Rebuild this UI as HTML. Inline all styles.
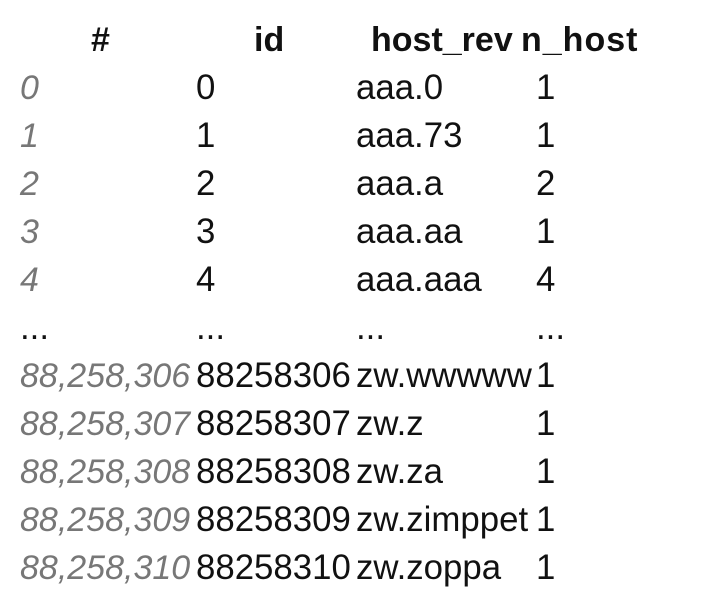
<!DOCTYPE html>
<html><head><style>
body{margin:0;width:706px;height:600px;background:#fff;position:relative;font-family:"Liberation Sans",Arial,sans-serif;font-size:34.8px;color:#111;overflow:hidden}
.t{position:absolute;line-height:1;white-space:nowrap}
.h{font-weight:bold;font-size:34px}
.i{font-style:italic;color:#777;font-size:34px}
</style></head><body>
<div class="t h" style="left:91px;top:23px">#</div>
<div class="t h" style="left:254px;top:23px">id</div>
<div class="t h" style="left:371px;top:23px">host_rev</div>
<div class="t h" style="left:521px;top:23px;letter-spacing:1px">n_host</div>

<div class="t i" style="left:20px;top:71px">0</div><div class="t" style="left:196px;top:71px">0</div><div class="t" style="left:356px;top:71px">aaa.0</div><div class="t" style="left:536px;top:71px">1</div>
<div class="t i" style="left:20px;top:119px">1</div><div class="t" style="left:196px;top:119px">1</div><div class="t" style="left:356px;top:119px">aaa.73</div><div class="t" style="left:536px;top:119px">1</div>
<div class="t i" style="left:20px;top:167px">2</div><div class="t" style="left:196px;top:167px">2</div><div class="t" style="left:356px;top:167px">aaa.a</div><div class="t" style="left:536px;top:167px">2</div>
<div class="t i" style="left:20px;top:215px">3</div><div class="t" style="left:196px;top:215px">3</div><div class="t" style="left:356px;top:215px">aaa.aa</div><div class="t" style="left:536px;top:215px">1</div>
<div class="t i" style="left:20px;top:263px">4</div><div class="t" style="left:196px;top:263px">4</div><div class="t" style="left:356px;top:263px">aaa.aaa</div><div class="t" style="left:536px;top:263px">4</div>
<div class="t" style="left:20px;top:311px">...</div><div class="t" style="left:196px;top:311px">...</div><div class="t" style="left:356px;top:311px">...</div><div class="t" style="left:536px;top:311px">...</div>
<div class="t i" style="left:20px;top:359px">88,258,306</div><div class="t" style="left:196px;top:359px">88258306</div><div class="t" style="left:356px;top:359px">zw.wwwww</div><div class="t" style="left:536px;top:359px">1</div>
<div class="t i" style="left:20px;top:407px">88,258,307</div><div class="t" style="left:196px;top:407px">88258307</div><div class="t" style="left:356px;top:407px">zw.z</div><div class="t" style="left:536px;top:407px">1</div>
<div class="t i" style="left:20px;top:455px">88,258,308</div><div class="t" style="left:196px;top:455px">88258308</div><div class="t" style="left:356px;top:455px">zw.za</div><div class="t" style="left:536px;top:455px">1</div>
<div class="t i" style="left:20px;top:503px">88,258,309</div><div class="t" style="left:196px;top:503px">88258309</div><div class="t" style="left:356px;top:503px">zw.zimppet</div><div class="t" style="left:536px;top:503px">1</div>
<div class="t i" style="left:20px;top:551px">88,258,310</div><div class="t" style="left:196px;top:551px">88258310</div><div class="t" style="left:356px;top:551px">zw.zoppa</div><div class="t" style="left:536px;top:551px">1</div>
</body></html>
